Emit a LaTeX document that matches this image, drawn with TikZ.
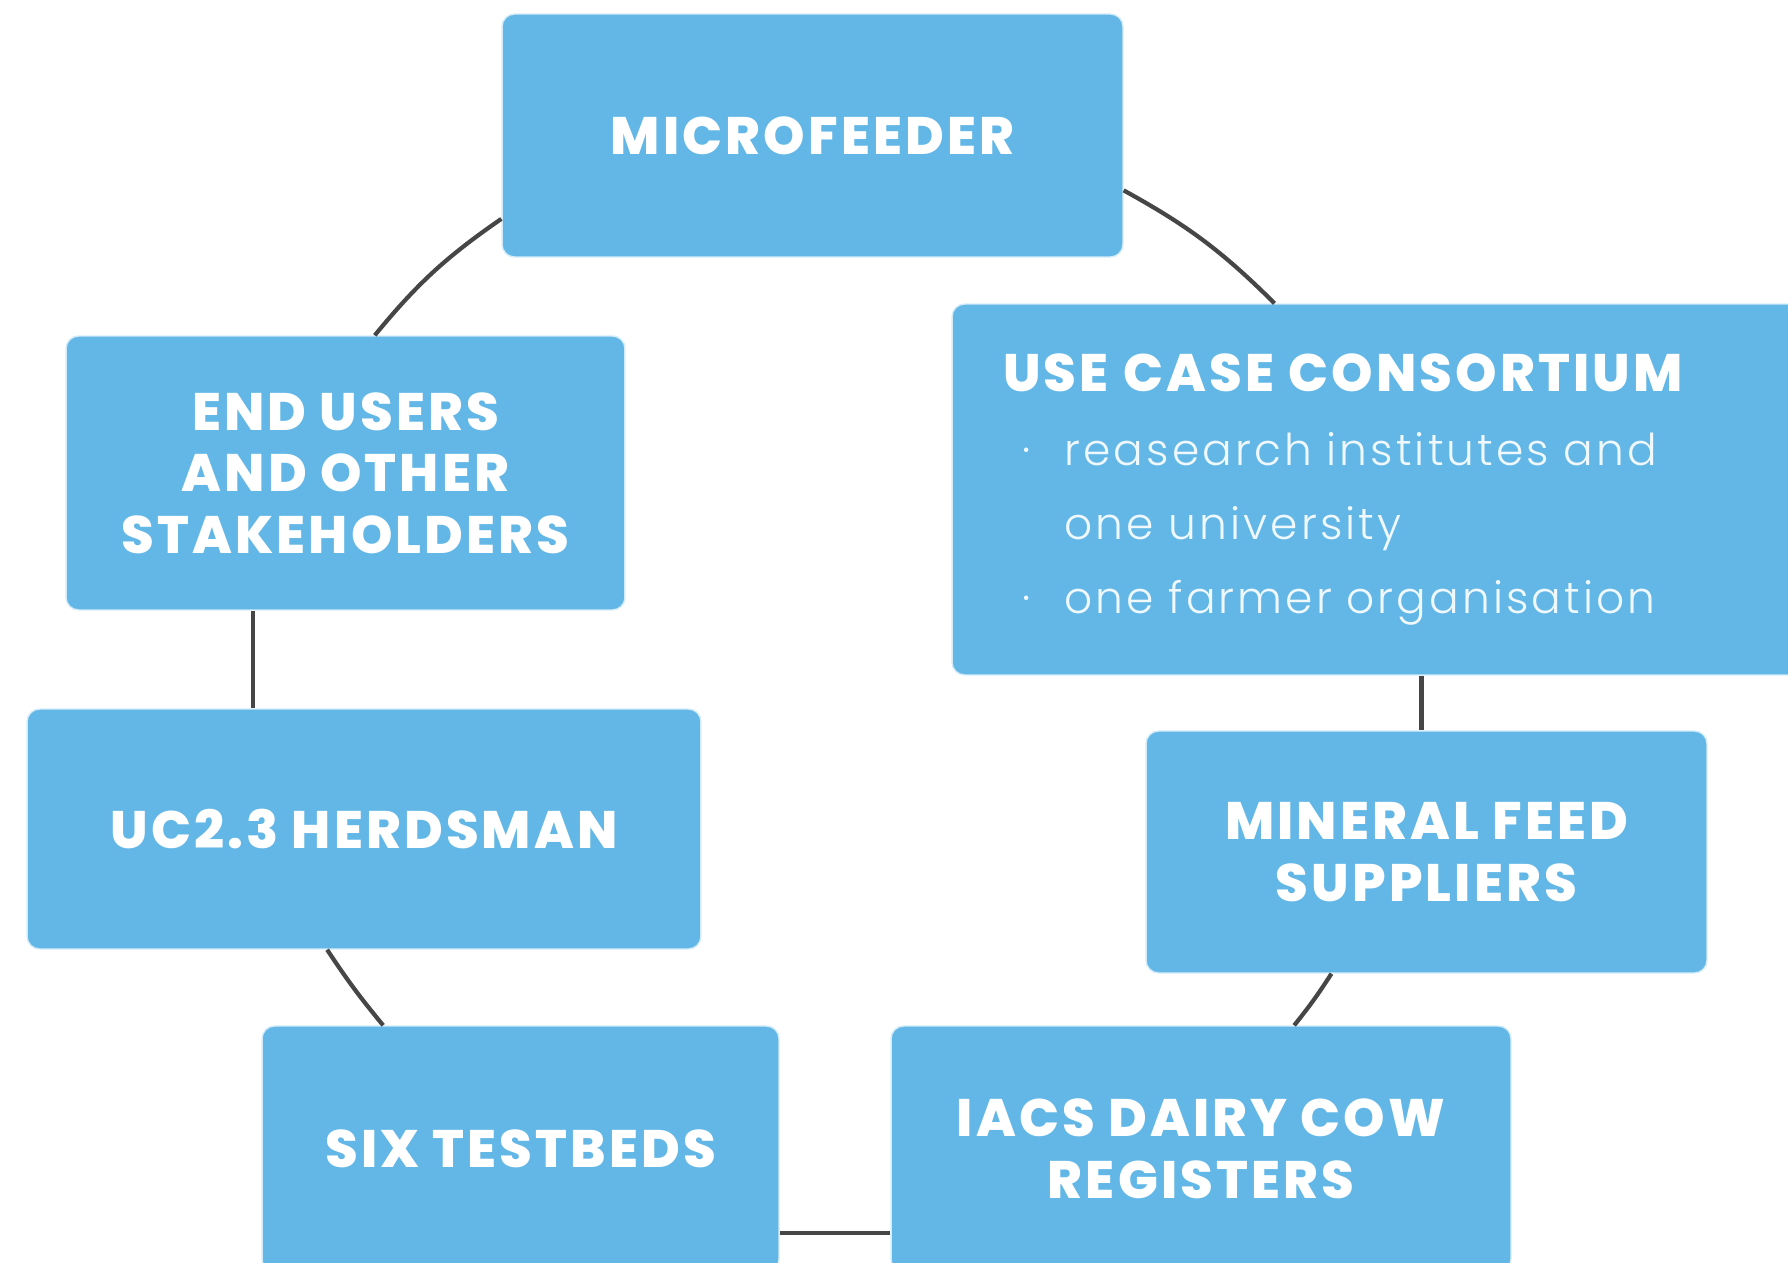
\documentclass[tikz,border=0pt]{standalone}
\usepackage{fontspec}
\newfontfamily\titlefont{Poppins ExtraBold}[LetterSpace=6]
\newfontfamily\bodyfont{Poppins Light}[LetterSpace=7]
\usetikzlibrary{positioning}
\definecolor{boxblue}{HTML}{62B7E6}
\definecolor{boxedge}{HTML}{D4ECF9}
\definecolor{linkgray}{HTML}{464646}

\begin{document}
\begin{tikzpicture}[x=0.02cm, y=-0.02cm, semithick]

%====Stili box e collegamenti================================================

	\tikzstyle{box}=[rectangle, rounded corners=0.25cm, fill=boxblue, draw=boxedge, line width=0.8pt, text=white, align=center, font=\titlefont\fontsize{30}{35}\selectfont]
	\tikzstyle{link}=[draw=linkgray, line width=2.4pt]

	\useasboundingbox (0,0) rectangle (1788,1263);
	\clip (0,0) rectangle (1788,1263);

%====Box e posizione=========================================================

	\node[box, minimum width=12.42cm, minimum height=4.86cm]	(MF) at (812.5,135.5)	{MICROFEEDER};
	\node[box, minimum width=11.18cm, minimum height=5.48cm]	(EU) at (345.5,473)	{END USERS\\AND OTHER\\STAKEHOLDERS};
	\node[box, minimum width=17.2cm, minimum height=7.42cm, inner xsep=1.02cm, text width=15.16cm, align=left, font=\bodyfont\fontsize{25}{42}\selectfont, text=white!90!boxblue]	(UC) at (1382,489.5)
		{{\titlefont\fontsize{30}{35}\selectfont\color{white}USE CASE CONSORTIUM}\\
		\hspace*{11pt}\makebox[24pt][l]{\textperiodcentered}reasearch institutes and\\
		\hspace*{35pt}one university\\
		\hspace*{11pt}\makebox[24pt][l]{\textperiodcentered}one farmer organisation};
	\node[box, minimum width=13.48cm, minimum height=4.8cm]	(HM) at (364,829)	{UC2.3 HERDSMAN};
	\node[box, minimum width=11.22cm, minimum height=4.84cm]	(MN) at (1426.5,852)	{MINERAL FEED\\SUPPLIERS};
	\node[box, minimum width=10.34cm, minimum height=4.92cm]	(SX) at (520.5,1149)	{SIX TESTBEDS};
	\node[box, minimum width=12.4cm, minimum height=4.92cm]	(IA) at (1201,1149)	{IACS DAIRY COW\\REGISTERS};

%====Collegamenti============================================================

	\draw[link] (MF.195) to[bend right=8] (EU.78);
	\draw[link] (MF.350) to[bend left=8] (UC.120);
	\draw[link] (EU.236) -- (EU.236 |- HM.north);
	\draw[link] (UC.282) -- (UC.282 |- MN.north);
	\draw[link] (HM.253) to[bend right=3] (SX.138);
	\draw[link] (MN.232) to[bend left=3] (IA.53);
	\draw[link] (SX.342) -- (SX.342 -| IA.west);
\end{tikzpicture}
\end{document}
